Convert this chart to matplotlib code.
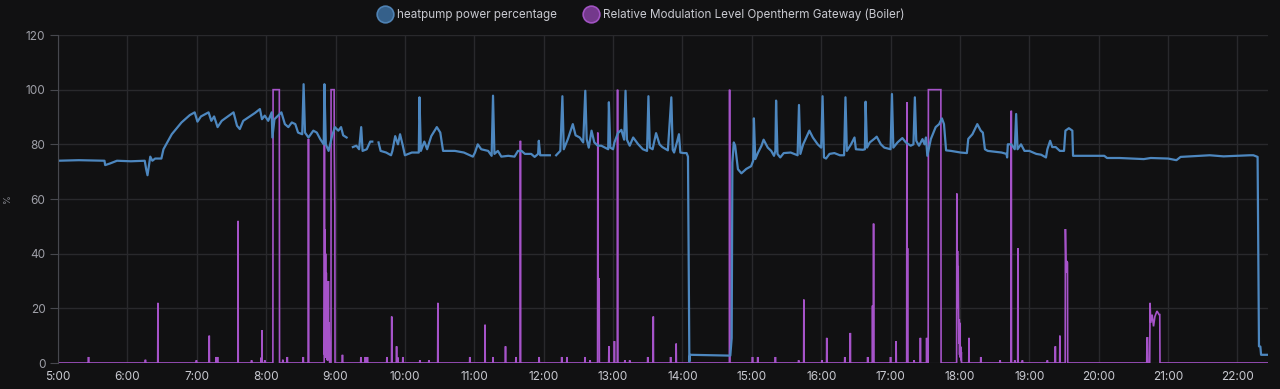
import numpy as np
import matplotlib
matplotlib.use("Agg")
import matplotlib.pyplot as plt
from matplotlib.lines import Line2D

nan = np.nan

# heatpump power percentage: (hour, value); nan = gap in data
heatpump = [
    (5.00, 74.0), (5.30, 74.2), (5.67, 74.0), (5.68, 72.4), (5.75, 73.0), (5.85, 74.0), (6.05, 73.8),
    (6.25, 74.0), (6.27, 71.0), (6.29, 68.7), (6.31, 72.0), (6.33, 75.5), (6.36, 74.0), (6.40, 74.8),
    (6.49, 74.8), (6.52, 78.2), (6.64, 83.7), (6.78, 88.0), (6.90, 90.7), (6.97, 91.7), (7.01, 88.3),
    (7.06, 90.2), (7.17, 91.7), (7.21, 88.6), (7.25, 90.2), (7.30, 86.3), (7.36, 88.6), (7.53, 91.7),
    (7.58, 86.8), (7.62, 85.6), (7.67, 88.6), (7.84, 91.5), (7.91, 92.9), (7.94, 89.2), (7.98, 90.5),
    (8.03, 88.6), (8.08, 91.7), (8.09, 82.5), (8.12, 89.2), (8.22, 91.7), (8.27, 87.4), (8.32, 86.3),
    (8.37, 88.0), (8.42, 87.4), (8.46, 84.3), (8.52, 83.7), (8.54, 102.0), (8.56, 84.3), (8.61, 82.5),
    (8.68, 85.0), (8.73, 84.3), (8.78, 81.9), (8.83, 80.0), (8.84, 102.0), (8.86, 80.0), (8.90, 77.6),
    (8.95, 83.0), (8.99, 86.3), (9.04, 85.0), (9.08, 86.3), (9.11, 83.3), (9.16, 82.5), (9.18, nan),
    (9.25, 79.0), (9.30, 79.5), (9.34, 78.2), (9.37, 86.3), (9.39, 77.6), (9.45, 78.2), (9.50, 81.0),
    (9.53, 81.0), (9.55, nan), (9.62, 80.7), (9.65, 77.6), (9.73, 77.0), (9.80, 76.0), (9.82, 77.6),
    (9.86, 83.0), (9.90, 80.0), (9.93, 83.7), (9.97, 79.5), (10.00, 76.0), (10.10, 77.0), (10.20, 77.0),
    (10.21, 97.2), (10.23, 77.6), (10.28, 81.0), (10.32, 78.2), (10.38, 83.0), (10.46, 86.3),
    (10.51, 84.3), (10.55, 77.6), (10.72, 77.6), (10.85, 77.0), (10.98, 75.5), (11.01, 77.0),
    (11.05, 80.0), (11.10, 78.2), (11.20, 77.6), (11.25, 75.8), (11.27, 97.8), (11.29, 76.5),
    (11.34, 77.6), (11.39, 75.5), (11.49, 75.8), (11.58, 75.5), (11.63, 77.6), (11.68, 77.6),
    (11.73, 76.5), (11.82, 76.5), (11.87, 75.4), (11.92, 76.5), (11.93, 81.3), (11.95, 76.0),
    (12.09, 76.0), (12.11, nan), (12.18, 76.0), (12.24, 77.6), (12.27, 97.6), (12.29, 78.2),
    (12.35, 82.0), (12.42, 87.4), (12.46, 83.3), (12.52, 82.5), (12.57, 80.7), (12.60, 99.6),
    (12.62, 81.9), (12.65, 78.8), (12.69, 85.0), (12.73, 80.7), (12.78, 79.5), (12.83, 79.5),
    (12.93, 78.2), (12.94, 95.4), (12.96, 78.8), (13.00, 78.2), (13.02, 80.7), (13.07, 84.1),
    (13.12, 85.3), (13.16, 81.7), (13.18, 99.6), (13.20, 81.7), (13.24, 79.5), (13.29, 82.5),
    (13.36, 80.1), (13.43, 78.2), (13.49, 77.6), (13.51, 97.6), (13.53, 78.8), (13.57, 78.2),
    (13.62, 84.1), (13.67, 80.0), (13.71, 79.0), (13.79, 77.8), (13.84, 97.2), (13.86, 78.0),
    (13.88, 77.0), (13.92, 80.7), (13.95, 83.7), (13.97, 77.0), (14.02, 76.8), (14.06, 76.8),
    (14.08, 75.5), (14.10, 0.5), (14.11, 3.0), (14.69, 2.7), (14.71, 9.1), (14.72, 73.3),
    (14.74, 80.7), (14.76, 79.5), (14.80, 70.9), (14.85, 69.4), (14.92, 71.0), (14.99, 72.0),
    (15.02, 74.0), (15.03, 89.5), (15.05, 74.6), (15.09, 77.0), (15.14, 79.5), (15.17, 81.7),
    (15.23, 78.8), (15.28, 77.6), (15.32, 75.8), (15.34, 77.6), (15.35, 96.0), (15.37, 76.5),
    (15.41, 75.2), (15.46, 76.8), (15.56, 77.0), (15.66, 76.0), (15.68, 94.4), (15.70, 76.5),
    (15.74, 80.0), (15.83, 85.0), (15.88, 82.5), (15.95, 80.0), (16.00, 78.8), (16.02, 97.6),
    (16.04, 75.2), (16.07, 74.8), (16.12, 76.5), (16.19, 76.8), (16.27, 76.0), (16.33, 76.0),
    (16.35, 97.2), (16.37, 77.6), (16.43, 80.0), (16.48, 82.5), (16.50, 78.2), (16.60, 78.0),
    (16.63, 78.2), (16.64, 95.6), (16.66, 78.8), (16.70, 80.7), (16.77, 82.1), (16.80, 82.8),
    (16.86, 80.0), (16.91, 78.8), (17.00, 78.2), (17.02, 98.4), (17.04, 78.8), (17.10, 80.7),
    (17.17, 82.3), (17.22, 80.7), (17.29, 79.5), (17.33, 80.0), (17.35, 97.2), (17.37, 81.3),
    (17.41, 79.5), (17.46, 81.9), (17.49, 80.0), (17.51, 82.5), (17.53, 75.8), (17.58, 81.9),
    (17.65, 86.3), (17.70, 87.4), (17.74, 89.5), (17.77, 87.4), (17.80, 77.8), (17.87, 77.6),
    (18.01, 77.0), (18.10, 76.8), (18.12, 82.0), (18.18, 83.7), (18.25, 87.4), (18.30, 85.0),
    (18.33, 84.3), (18.36, 78.2), (18.40, 77.6), (18.50, 77.3), (18.60, 77.0), (18.67, 76.5),
    (18.68, 75.2), (18.69, 80.0), (18.74, 80.0), (18.79, 78.2), (18.81, 91.1), (18.83, 78.2),
    (18.88, 80.0), (18.93, 77.6), (19.00, 77.6), (19.10, 76.5), (19.17, 76.2), (19.24, 75.2),
    (19.26, 78.2), (19.30, 81.3), (19.33, 79.0), (19.38, 79.0), (19.44, 77.6), (19.50, 77.6),
    (19.52, 85.0), (19.57, 85.9), (19.62, 85.0), (19.63, 75.8), (19.75, 75.8), (20.08, 75.8),
    (20.12, 75.0), (20.30, 75.0), (20.65, 74.6), (20.75, 75.0), (21.00, 74.8), (21.12, 74.2),
    (21.18, 75.4), (21.60, 76.0), (21.80, 75.6), (22.18, 76.0), (22.23, 76.0), (22.29, 75.4),
    (22.31, 6.1), (22.33, 6.0), (22.34, 3.0), (22.44, 3.0),
]

# boiler modulation: single short spikes (hour, value)
boiler_spikes = [
    (5.44, 2.2), (6.26, 1.2), (6.44, 22), (6.995, 1), (7.18, 10), (7.28, 2.2), (7.30, 2.2),
    (7.595, 52), (7.79, 1), (7.93, 2), (7.94, 12), (7.98, 1), (8.24, 1.2), (8.305, 2.2),
    (8.535, 2.2), (8.61, 82), (9.10, 3), (9.365, 2.2), (9.43, 2.2), (9.46, 2.2), (9.74, 2.2),
    (9.81, 17), (9.88, 6.1), (9.90, 2), (9.97, 2.2), (10.215, 1), (10.345, 1), (10.475, 22),
    (10.935, 2.2), (11.155, 14), (11.27, 2.2), (11.45, 6.1), (11.60, 2.2), (11.665, 81.3),
    (11.935, 2.2), (12.26, 2.2), (12.335, 2.2), (12.595, 2.2), (12.67, 1), (12.94, 6.1),
    (13.02, 8), (13.065, 100), (13.17, 1), (13.24, 1), (13.50, 2.2), (13.58, 17), (13.83, 2.2),
    (13.91, 7.1), (14.68, 100), (15.01, 2.2), (15.085, 2.2), (15.34, 2.2), (15.675, 1),
    (15.75, 23.2), (16.01, 1), (16.08, 9.2), (16.34, 2.2), (16.42, 11), (16.67, 2.2),
    (16.74, 21), (16.755, 51), (17.00, 2.2), (17.08, 8), (17.235, 95.4), (17.245, 42),
    (17.34, 1), (17.43, 9.2), (17.52, 9.2), (18.13, 9.2), (18.30, 2.2), (18.58, 1),
    (18.74, 92.3), (18.79, 1), (18.835, 42), (18.90, 1), (19.26, 1), (19.375, 6.1), (19.44, 10),
]

# boiler modulation: longer runs of samples (hour, value)
boiler_runs = [
    [(8.10, 100), (8.19, 100)],
    [(8.840, 87), (8.843, 3), (8.848, 49), (8.852, 2), (8.857, 40), (8.862, 8), (8.867, 33),
     (8.872, 2), (8.877, 28), (8.882, 1), (8.887, 20), (8.892, 1), (8.897, 30), (8.902, 2),
     (8.907, 15), (8.915, 0), (8.935, 0), (8.936, 100), (8.980, 100), (8.982, 79), (8.990, 57)],
    [(12.780, 84.3), (12.785, 35.5), (12.790, 17), (12.795, 31), (12.800, 28)],
    [(17.545, 100), (17.725, 100)],
    [(17.955, 62), (17.960, 20), (17.965, 41), (17.970, 31), (17.975, 35.5), (17.980, 18),
     (17.985, 7), (17.990, 16), (17.995, 3), (18.000, 14.7), (18.005, 2), (18.010, 6),
     (18.015, 1), (18.020, 4)],
    [(19.520, 49), (19.525, 40), (19.530, 33), (19.540, 37.3), (19.550, 36.7)],
    [(20.695, 9.2), (20.705, 9.2), (20.710, 0), (20.735, 0), (20.740, 22), (20.750, 14.7),
     (20.770, 17.7), (20.790, 13.4), (20.810, 17), (20.840, 19), (20.870, 17.7), (20.880, 17.7)],
]

t_start, t_end = 5.0, 22.44
hour_ticks = list(range(5, 23))
y_ticks = [0, 20, 40, 60, 80, 100, 120]

# build boiler line: zero baseline with spikes and runs
runs = [[s] for s in boiler_spikes] + boiler_runs
runs.sort(key=lambda r: r[0][0])
eps = 0.003
bx, by = [t_start], [0.0]
for r in runs:
    bx.append(r[0][0] - eps); by.append(0.0)
    for t, v in r:
        bx.append(t); by.append(v)
    bx.append(r[-1][0] + eps); by.append(0.0)
bx.append(t_end); by.append(0.0)

hx = [p[0] for p in heatpump]
hy = [p[1] for p in heatpump]

bg = "#111112"
grid_c = "#29292c"
blue = "#4d87bf"
purple = "#a653c9"
txt = "#c8c9d0"

plt.rcParams["font.family"] = ["Inter", "DejaVu Sans"]

fig = plt.figure(figsize=(12.8, 3.89), dpi=100, facecolor=bg)
ax = fig.add_axes([58 / 1280, 26 / 389, 1210 / 1280, 328 / 389])
ax.set_facecolor(bg)

ax.plot(bx, by, color=purple, lw=1.2, solid_joinstyle="miter")
ax.plot(hx, hy, color=blue, lw=1.6)

ax.set_xlim(t_start, t_end)
ax.set_ylim(0, 120)
ax.set_xticks(hour_ticks)
ax.set_xticklabels([f"{h}:00" for h in hour_ticks])
ax.set_yticks(y_ticks)
ax.grid(True, color=grid_c, lw=1)
ax.set_axisbelow(True)
for s in ["top", "right", "bottom"]:
    ax.spines[s].set_visible(False)
ax.spines["left"].set_color("#47484e")
ax.tick_params(axis="y", colors="#47484e", labelcolor="#9fa0a8", labelsize=8.5, length=6, pad=3)
ax.tick_params(axis="x", colors="#47484e", labelcolor=txt, labelsize=8.5, length=0, pad=6)
ax.set_ylabel("%", color="#8a8b92", fontsize=6.5, labelpad=10)

handles = [
    Line2D([], [], ls="", marker="o", markersize=12, markerfacecolor="#35608a",
           markeredgecolor="#4f82b3", markeredgewidth=1.2, label="heatpump power percentage"),
    Line2D([], [], ls="", marker="o", markersize=12, markerfacecolor="#74398c",
           markeredgecolor="#a153c2", markeredgewidth=1.2,
           label="Relative Modulation Level Opentherm Gateway (Boiler)"),
]
leg = fig.legend(handles=handles, loc="center", bbox_to_anchor=(0.501, 0.963), ncol=2,
                 frameon=False, fontsize=8.4, handletextpad=0.45, columnspacing=2.3,
                 handlelength=1.2)
for t in leg.get_texts():
    t.set_color(txt)

fig.savefig("out.png", dpi=100, facecolor=bg)
